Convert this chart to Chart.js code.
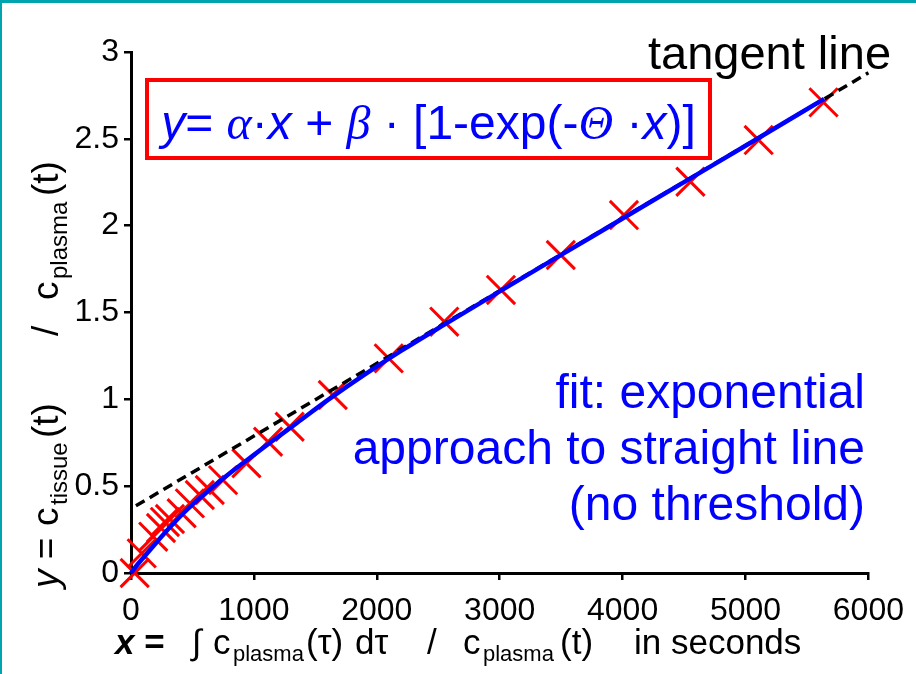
<!DOCTYPE html>
<html><head><meta charset="utf-8">
<script src="https://cdn.jsdelivr.net/npm/chart.js@4.4.1/dist/chart.umd.min.js"></script>
<style>
html,body{margin:0;padding:0;background:#fff;}
#wrap{position:relative;width:916px;height:674px;overflow:hidden;background:#fff;font-family:"Liberation Sans",Arial,sans-serif;}
#c{position:absolute;left:0;top:0;}
#frameTop{position:absolute;left:0;top:0;width:916px;height:3px;background:#00a4ae;}
#frameLeft{position:absolute;left:0;top:0;width:2px;height:674px;background:#00a4ae;}
.t{position:absolute;white-space:pre;}
#formula{left:145px;top:78px;width:567px;height:82px;box-sizing:border-box;border:4px solid #ff0000;color:#0000ff;font-size:48px;line-height:82px;text-align:center;}
.g{font-family:"Liberation Serif","Times New Roman",serif;font-style:italic;}
#tangent{left:648px;top:30px;font-size:47px;line-height:46px;color:#000;}
#fit{right:51px;top:364px;font-size:48px;line-height:56px;color:#0000ff;text-align:right;}
#xt{left:0;top:622px;width:916px;height:40px;font-size:35px;line-height:40px;color:#000;}
#xt span, #yt span{position:absolute;top:0;white-space:pre;}
#xt span.sub{font-size:22px;top:12px;}
#yt{left:25px;top:588px;width:480px;height:42px;font-size:37px;line-height:42px;color:#000;transform:rotate(-90deg);transform-origin:0 0;}
#yt span.sub{font-size:24px;top:13px;}
</style></head>
<body>
<div id="wrap">
<canvas id="c" width="916" height="674"></canvas>
<div id="frameTop"></div><div id="frameLeft"></div>
<div class="t" id="formula"><i>y</i>= <span class="g">α</span>·<i>x</i> + <span class="g">β</span> · [1-exp(-<span class="g">Θ</span> ·<i>x</i>)]</div>
<div class="t" id="tangent">tangent line</div>
<div class="t" id="fit">fit: exponential
approach to straight line
(no threshold)</div>
<div class="t" id="xt"><span style="left:115px"><b><i>x</i> =</b></span><span style="left:192px">∫</span><span style="left:213px">c</span><span class="sub" style="left:233px">plasma</span><span style="left:306px">(τ)</span><span style="left:355px">dτ</span><span style="left:427px">/</span><span style="left:463px">c</span><span class="sub" style="left:483px">plasma</span><span style="left:560px">(t)</span><span style="left:634px">in seconds</span></div>
<div class="t" id="yt"><span style="left:0px"><i>y</i> =</span><span style="left:62px">c</span><span class="sub" style="left:83px">tissue</span><span style="left:150px">(t)</span><span style="left:252px">/</span><span style="left:288px">c</span><span class="sub" style="left:309px">plasma</span><span style="left:392px">(t)</span></div>
</div>
<script>
// ---- data ----
const xTickValues = [0, 1000, 2000, 3000, 4000, 5000, 6000];
const xTickLabels = ['0', '1000', '2000', '3000', '4000', '5000', '6000'];
const yTickValues = [0, 0.5, 1, 1.5, 2, 2.5, 3];
const yTickLabels = ['0', '0.5', '1', '1.5', '2', '2.5', '3'];

// measured data points (red crosses)
const measX = [30, 87, 181, 244, 276, 317, 412, 479, 560, 641, 749, 939, 1115, 1291, 1642, 2097, 2549, 3010, 3497, 4011, 4552, 5107, 5635];
const measY = [0.0, 0.113, 0.209, 0.259, 0.294, 0.311, 0.344, 0.401, 0.449, 0.478, 0.535, 0.632, 0.756, 0.842, 1.025, 1.236, 1.447, 1.63, 1.831, 2.061, 2.253, 2.493, 2.71];

// fitted curve (blue)
const fitX = [0, 50, 100, 200, 300, 400, 550, 700, 850, 1000, 1150, 1350, 1600, 1900, 2200, 2600, 3000, 3500, 4000, 4500, 5000, 5640];
const fitY = [0, 0.046, 0.088, 0.17, 0.25, 0.326, 0.425, 0.515, 0.6, 0.68, 0.76, 0.864, 0.995, 1.142, 1.28, 1.452, 1.622, 1.832, 2.041, 2.251, 2.46, 2.73];

// tangent line (black dashed)
const tanX = [40, 6000];
const tanY = [0.387, 2.88];

const FONT = '"Liberation Sans", Arial, sans-serif';
const pts = (xs, ys) => xs.map((x, i) => ({x: x, y: ys[i]}));

new Chart(document.getElementById('c'), {
  type: 'scatter',
  data: {
    datasets: [
      {label: 'fit', data: pts(fitX, fitY), showLine: true, borderColor: '#0000ff', borderWidth: 4.5,
       pointRadius: 0, cubicInterpolationMode: 'monotone', order: 0, clip: false},
      {label: 'tangent', data: pts(tanX, tanY), showLine: true, borderColor: '#000000', borderWidth: 3.5,
       borderDash: [10, 6], pointRadius: 0, order: 1, clip: false},
      {label: 'data', data: pts(measX, measY), showLine: false, pointStyle: 'crossRot', pointRadius: 20,
       borderColor: '#ff0000', pointBorderColor: '#ff0000', borderWidth: 3, pointBorderWidth: 3,
       backgroundColor: '#ff0000', order: 2, clip: false}
    ]
  },
  options: {
    responsive: false, animation: false, devicePixelRatio: 1,
    layout: {padding: {left: 0, right: 46, top: 52, bottom: 0}},
    plugins: {legend: {display: false}, tooltip: {enabled: false}},
    scales: {
      x: {
        type: 'linear', min: 0, max: 6000,
        afterBuildTicks: s => { s.ticks = xTickValues.map(v => ({value: v})); },
        afterFit: s => { s.height = 101; },
        ticks: {callback: (v, i) => xTickLabels[i], font: {size: 32, family: FONT}, color: '#000',
                padding: 12, maxRotation: 0, autoSkip: false},
        grid: {display: true, drawOnChartArea: false, drawTicks: true, tickLength: 7, color: '#000', lineWidth: 2.5},
        border: {display: true, color: '#000', width: 3}
      },
      y: {
        type: 'linear', min: 0, max: 3,
        afterBuildTicks: s => { s.ticks = yTickValues.map(v => ({value: v})); },
        afterFit: s => { s.width = 131; },
        ticks: {callback: (v, i) => yTickLabels[i], font: {size: 32, family: FONT}, color: '#000',
                padding: 5, autoSkip: false},
        grid: {display: true, drawOnChartArea: false, drawTicks: true, tickLength: 7, color: '#000', lineWidth: 2.5},
        border: {display: true, color: '#000', width: 3}
      }
    }
  }
});
</script>
</body></html>
